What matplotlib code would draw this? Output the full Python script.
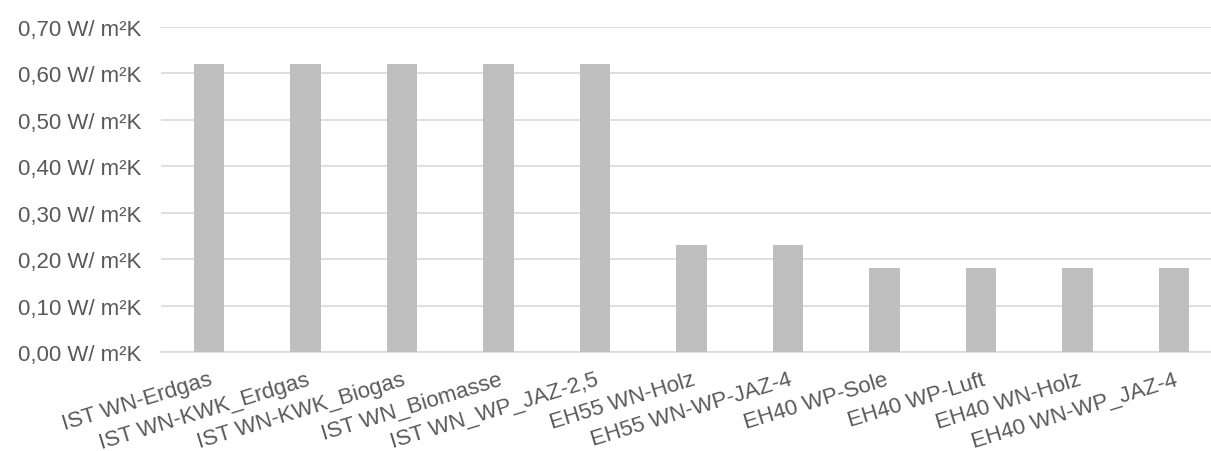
import matplotlib
matplotlib.use("Agg")
import matplotlib.pyplot as plt
from matplotlib.ticker import FuncFormatter

plt.rcParams['font.family'] = ['Liberation Sans', 'DejaVu Sans']

categories = [
    "IST WN-Erdgas",
    "IST WN-KWK_Erdgas",
    "IST WN-KWK_Biogas",
    "IST WN_Biomasse",
    "IST WN_WP_JAZ-2,5",
    "EH55 WN-Holz",
    "EH55 WN-WP-JAZ-4",
    "EH40 WP-Sole",
    "EH40 WP-Luft",
    "EH40 WN-Holz",
    "EH40 WN-WP_JAZ-4",
]
u_values = [0.62, 0.62, 0.62, 0.62, 0.62, 0.23, 0.23, 0.18, 0.18, 0.18, 0.18]
y_ticks = [0.0, 0.1, 0.2, 0.3, 0.4, 0.5, 0.6, 0.7]

text_color = "#595959"
grid_color = "#d9d9d9"
bar_color = "#bfbfbf"

fig = plt.figure(figsize=(12.11, 4.52), dpi=100)
ax = fig.add_axes([0.1327, 0.219, 0.8766, 0.719])

x = list(range(len(categories)))
ax.bar(x, u_values, width=0.32, color=bar_color, zorder=3)

ax.set_xlim(-0.5, len(categories) - 0.5)
ax.set_ylim(0, 0.70)
ax.set_yticks(y_ticks)
ax.yaxis.set_major_formatter(
    FuncFormatter(lambda v, _: f"{v:.2f}".replace(".", ",") + " W/ m²K"))

ax.grid(axis="y", color=grid_color, linewidth=1.2, zorder=0)
ax.set_axisbelow(True)
for side in ("top", "right", "left"):
    ax.spines[side].set_visible(False)
ax.spines["bottom"].set_color(grid_color)
ax.spines["bottom"].set_linewidth(1.2)

ax.set_xticks(x)
ax.set_xticklabels(categories, rotation=17, ha="right",
                   rotation_mode="anchor")
ax.tick_params(axis="x", length=0, pad=12, labelsize=16, colors=text_color)
ax.tick_params(axis="y", length=0, pad=14, labelsize=16, colors=text_color)

fig.savefig("out.png", dpi=100, facecolor="white")
